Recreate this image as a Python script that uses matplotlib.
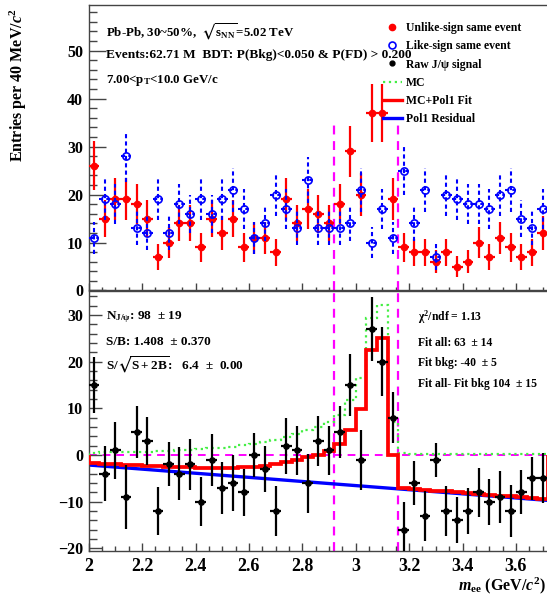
import numpy as np
import matplotlib
matplotlib.use("Agg")
import matplotlib.pyplot as plt
from matplotlib.lines import Line2D
from matplotlib.ticker import MultipleLocator

plt.rcParams["font.family"] = "Liberation Serif"
plt.rcParams["font.weight"] = "bold"
plt.rcParams["mathtext.fontset"] = "custom"
plt.rcParams["mathtext.rm"] = "Liberation Serif:bold"
plt.rcParams["mathtext.bf"] = "Liberation Serif:bold"
plt.rcParams["mathtext.it"] = "Liberation Serif:italic:bold"
plt.rcParams["mathtext.fallback"] = "stix"

# ---- invariant mass binning (40 MeV bins) ----
m_lo, m_hi, bin_w = 2.00, 3.72, 0.04
edges = np.linspace(m_lo, m_hi, 44)
centres = 0.5 * (edges[:-1] + edges[1:])

# ---- counts per bin ----
unlike = np.array([26, 15, 19, 19, 18, 15, 7, 10, 14, 14, 9, 15, 12, 15, 9, 11,
                   11, 8, 19, 14, 17, 16, 14, 18, 29, 20, 37, 37, 19, 9, 8, 8,
                   6, 8, 5, 6, 10, 7, 11, 9, 7, 8, 12])
like = np.array([11, 19, 18, 28, 13, 12, 19, 12, 18, 16, 19, 16, 19, 21, 17, 11,
                 14, 20, 17, 13, 23, 13, 13, 13, 14, 21, 10, 17, 11, 25, 14, 21,
                 7, 20, 19, 18, 18, 17, 20, 21, 15, 13, 17])

# scaled J/psi MC template
mc = np.array([0.5, 0.55, 0.6, 0.65, 0.7, 0.75, 0.85, 0.95, 1.05, 1.15, 1.3,
               1.45, 1.6, 1.8, 2.1, 2.4, 2.8, 3.3, 3.9, 4.6, 5.3, 6.0, 7.0, 8.6,
               11.8, 16.4, 29.3, 32.1, 7.1, 0.35, 0.25, 0.25, 0.25, 0.25, 0.25,
               0.25, 0.25, 0.25, 0.25, 0.25, 0.25, 0.25, 0.25])

# pol1 residual background: p0 + p1*m
p0, p1 = 6.68, -4.41
win_lo, win_hi = 2.92, 3.16

signal = unlike - like
signal_err = np.sqrt(unlike + like)
pol1 = p0 + p1 * centres
fit = mc + pol1

fig = plt.figure(figsize=(5.47, 5.96), dpi=100)
left = 88.7 / 547
ax1 = fig.add_axes([left, 1 - 290.5 / 596, 1 - left, (290.5 - 5) / 596])
ax2 = fig.add_axes([left, 1 - 550.7 / 596, 1 - left, (550.7 - 290.5) / 596])

frame_col = "#444444"
x_max = 2.0 + (547 - 88.7) / 267.0

# ---------- top pad: same-event spectra ----------
ax1.errorbar(centres, unlike, yerr=np.sqrt(unlike), xerr=bin_w / 2, fmt="o",
             color="red", ms=4.5, elinewidth=1.6, capsize=0, zorder=3)
blue = ax1.errorbar(centres, like, yerr=np.sqrt(like), xerr=bin_w / 2, fmt="o",
                    color="blue", mfc="none", ms=5.2, mew=1.2, elinewidth=1.5,
                    capsize=0, zorder=4)
for coll in blue[2]:
    coll.set_linestyle((0, (2, 1.5)))
for xv in (win_lo, win_hi):
    ax1.plot([xv, xv], [0, 35.5], color="magenta", ls=(0, (4, 3)), lw=1.6, zorder=2)

ax1.set_xlim(m_lo, x_max)
ax1.set_ylim(0, 59.5)
ax1.yaxis.set_major_locator(MultipleLocator(10))
ax1.yaxis.set_minor_locator(MultipleLocator(2))
ax1.xaxis.set_major_locator(MultipleLocator(0.2))
ax1.xaxis.set_minor_locator(MultipleLocator(0.05))
ax1.tick_params(axis="y", which="major", direction="in", length=12, width=1,
                color=frame_col, labelsize=11.5, pad=4)
ax1.tick_params(axis="y", which="minor", direction="in", length=6, width=1,
                color=frame_col)
ax1.tick_params(axis="x", which="major", direction="in", length=4.8, width=1,
                color=frame_col, labelbottom=False)
ax1.tick_params(axis="x", which="minor", direction="in", length=2.4, width=1,
                color=frame_col)

ax1.text(106, 596 - 32, r"Pb-Pb, 30~50%,  $\sqrt{\mathrm{s}_{\mathrm{NN}}}$=5.02 TeV",
         transform=None, fontsize=9.3, va="center")
ax1.text(106, 596 - 55, "Events:62.71 M  BDT: P(Bkg)<0.050 & P(FD) > 0.200",
         transform=None, fontsize=9.6, va="center")
ax1.text(106, 596 - 80, r"7.00<p$_{\mathrm{T}}$<10.0 GeV/c",
         transform=None, fontsize=9.3, va="center")

handles = [
    Line2D([], [], ls="none", marker="o", color="red", ms=4.5),
    Line2D([], [], ls="none", marker="o", mfc="none", mec="blue", ms=5, mew=1.2),
    Line2D([], [], ls="none", marker="o", color="black", ms=3.5),
    Line2D([], [], ls=":", color="#44ee44", lw=1.6),
    Line2D([], [], color="red", lw=2.4),
    Line2D([], [], color="blue", lw=2.4),
]
labels = ["Unlike-sign same event", "Like-sign same event", "Raw J/ψ signal",
          "MC", "MC+Pol1 Fit", "Pol1 Residual"]
fig.legend(handles, labels, loc="upper left",
           bbox_to_anchor=(383 / 547, 1 - 22 / 596), frameon=False,
           prop={"family": "Liberation Serif", "weight": "bold", "size": 8.5},
           handlelength=1.6, handletextpad=0.35, labelspacing=0.53,
           borderaxespad=0, borderpad=0)

# ---------- bottom pad: raw signal and fit ----------
ax2.axhline(0, color="magenta", ls=(0, (4, 3)), lw=1.4, zorder=1)
for xv in (win_lo, win_hi):
    ax2.axvline(xv, color="magenta", ls=(0, (4, 3)), lw=1.6, zorder=1)
ax2.plot([m_lo, m_hi], [p0 + p1 * m_lo, p0 + p1 * m_hi], color="blue", lw=2.4,
         zorder=2)
ax2.stairs(mc, edges, color="#44ee44", ls=":", lw=1.6, zorder=3)
ax2.stairs(fit, edges, color="red", lw=2.7, zorder=4)
ax2.errorbar(centres, signal, yerr=signal_err, xerr=bin_w / 2, fmt="o",
             color="black", ms=3.8, elinewidth=1.6, capsize=0, zorder=5)

ax2.set_xlim(m_lo, x_max)
ax2.set_ylim(-20.5, 35.25)
ax2.yaxis.set_major_locator(MultipleLocator(10))
ax2.yaxis.set_minor_locator(MultipleLocator(2))
ax2.xaxis.set_major_locator(MultipleLocator(0.2))
ax2.xaxis.set_minor_locator(MultipleLocator(0.05))
ax2.tick_params(axis="y", which="major", direction="in", length=9.6, width=1,
                color=frame_col, labelsize=11.5, pad=4)
ax2.tick_params(axis="y", which="minor", direction="in", length=5.5, width=1,
                color=frame_col)
ax2.tick_params(axis="x", which="major", direction="in", length=5.8, width=1,
                color=frame_col, labelsize=13, pad=5)
ax2.tick_params(axis="x", which="minor", direction="in", length=3.6, width=1,
                color=frame_col)
ax2.xaxis.set_major_formatter(plt.FuncFormatter(lambda v, p: f"{v:g}"))

for ax in (ax1, ax2):
    ax.spines["right"].set_visible(False)
    for s in ("left", "bottom", "top"):
        ax.spines[s].set_color(frame_col)
        ax.spines[s].set_linewidth(1)

left_txt = [r"N$_{\mathrm{J/ψ}}$: 98  ± 19", "S/B: 1.408  ± 0.370",
            r"S/$\sqrt{\mathrm{S+2B}}$:   6.4  ±  0.00"]
for txt, yp in zip(left_txt, (317, 342, 365)):
    ax2.text(106, 596 - yp, txt, transform=None, fontsize=9.5, va="center")
right_txt = [r"χ$^{2}$/ndf = 1.13", "Fit all: 63  ± 14", "Fit bkg: -40  ± 5",
             "Fit all- Fit bkg 104  ± 15"]
for txt, yp in zip(right_txt, (317, 343, 363, 384)):
    ax2.text(418, 596 - yp, txt, transform=None, fontsize=8.4, va="center")

fig.text(18 / 547, 1 - 85 / 596, r"Entries per 40 MeV/$c^{2}$", rotation=90,
         ha="center", va="center", fontsize=11.5)
fig.text(546 / 547, 1 - 586 / 596, r"$m_{\mathrm{ee}}$ (GeV/$c^{2}$)",
         ha="right", va="center", fontsize=11.5)

fig.savefig("out.png", dpi=100)
